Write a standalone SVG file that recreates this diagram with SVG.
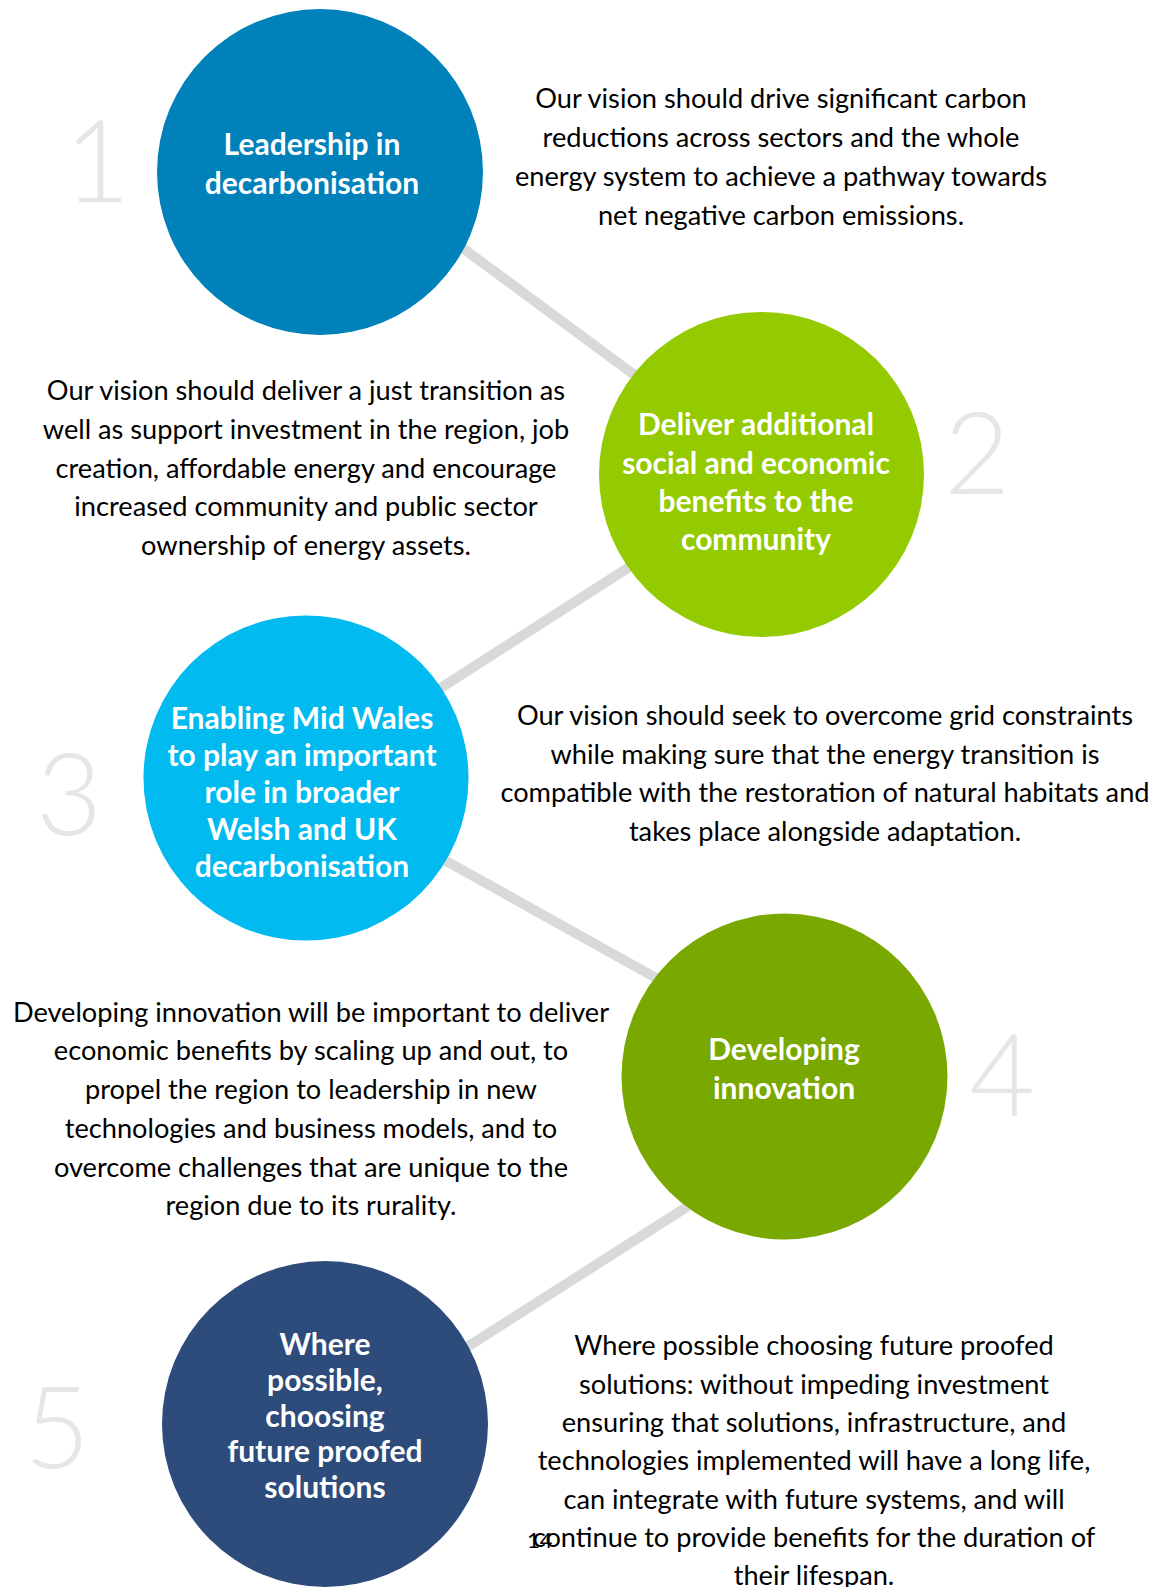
<svg xmlns="http://www.w3.org/2000/svg" width="1164" height="1587" viewBox="0 0 1164 1587">
<style>
.body{font-family:Lato,"Open Sans",sans-serif;font-size:27.2px;fill:#000;text-anchor:middle}
.title{font-family:Lato,"Open Sans",sans-serif;font-size:30px;font-weight:bold;fill:#fff;text-anchor:middle}
.num{font-family:Lato,"Open Sans",sans-serif;font-size:114px;font-weight:300;fill:#e6e6e6;text-anchor:middle}
.conn{stroke:#d9d9d9;stroke-width:10;fill:none}
.pg{font-family:Lato,"Open Sans",sans-serif;font-size:22px;fill:#000}
</style>
<rect width="1164" height="1587" fill="#fff"/>
<g id="connectors">
<line class="conn" x1="449" y1="238" x2="648" y2="385"/>
<line class="conn" x1="425" y1="698" x2="645" y2="557"/>
<line class="conn" x1="430" y1="852" x2="674" y2="988"/>
<line class="conn" x1="453" y1="1356" x2="704" y2="1196"/>
</g>
<g id="node1">
<text class="num" x="97" y="202">1</text>
<circle cx="320" cy="172" r="163" fill="#0081BA"/>
<text class="title"><tspan x="312" y="155">Leadership in</tspan><tspan x="312" y="194">decarbonisation</tspan></text>
</g>
<g id="text1">
<text class="body"><tspan x="781" y="108">Our vision should drive significant carbon</tspan><tspan x="781" y="147">reductions across sectors and the whole</tspan><tspan x="781" y="186">energy system to achieve a pathway towards</tspan><tspan x="781" y="225">net negative carbon emissions.</tspan></text>
</g>
<g id="node2">
<text class="num" x="977" y="494">2</text>
<circle cx="761.5" cy="474.5" r="162.5" fill="#93CA00"/>
<text class="title"><tspan x="756" y="435">Deliver additional</tspan><tspan x="756" y="474">social and economic</tspan><tspan x="756" y="512">benefits to the</tspan><tspan x="756" y="550">community</tspan></text>
</g>
<g id="text2">
<text class="body"><tspan x="306" y="400">Our vision should deliver a just transition as</tspan><tspan x="306" y="439">well as support investment in the region, job</tspan><tspan x="306" y="478">creation, affordable energy and encourage</tspan><tspan x="306" y="516">increased community and public sector</tspan><tspan x="306" y="555">ownership of energy assets.</tspan></text>
</g>
<g id="node3">
<text class="num" x="69" y="835">3</text>
<circle cx="306" cy="778" r="162.5" fill="#00BAF0"/>
<text class="title"><tspan x="302" y="729">Enabling Mid Wales</tspan><tspan x="302" y="766">to play an important</tspan><tspan x="302" y="803">role in broader</tspan><tspan x="302" y="840">Welsh and UK</tspan><tspan x="302" y="877">decarbonisation</tspan></text>
</g>
<g id="text3">
<text class="body"><tspan x="825" y="725">Our vision should seek to overcome grid constraints</tspan><tspan x="825" y="764">while making sure that the energy transition is</tspan><tspan x="825" y="802">compatible with the restoration of natural habitats and</tspan><tspan x="825" y="841">takes place alongside adaptation.</tspan></text>
</g>
<g id="node4">
<text class="num" x="1002" y="1116">4</text>
<circle cx="784.5" cy="1076.5" r="163" fill="#79A800"/>
<text class="title"><tspan x="784" y="1060">Developing</tspan><tspan x="784" y="1099">innovation</tspan></text>
</g>
<g id="text4">
<text class="body"><tspan x="311" y="1022">Developing innovation will be important to deliver</tspan><tspan x="311" y="1060">economic benefits by scaling up and out, to</tspan><tspan x="311" y="1099">propel the region to leadership in new</tspan><tspan x="311" y="1138">technologies and business models, and to</tspan><tspan x="311" y="1177">overcome challenges that are unique to the</tspan><tspan x="311" y="1215">region due to its rurality.</tspan></text>
</g>
<g id="node5">
<text class="num" x="57" y="1468">5</text>
<circle cx="325" cy="1424" r="163" fill="#2D4B7B"/>
<text class="title"><tspan x="325" y="1355">Where</tspan><tspan x="325" y="1391">possible,</tspan><tspan x="325" y="1427">choosing</tspan><tspan x="325" y="1462">future proofed</tspan><tspan x="325" y="1498">solutions</tspan></text>
</g>
<g id="text5">
<text class="body"><tspan x="814" y="1355">Where possible choosing future proofed</tspan><tspan x="814" y="1394">solutions: without impeding investment</tspan><tspan x="814" y="1432">ensuring that solutions, infrastructure, and</tspan><tspan x="814" y="1470">technologies implemented will have a long life,</tspan><tspan x="814" y="1509">can integrate with future systems, and will</tspan><tspan x="814" y="1547">continue to provide benefits for the duration of</tspan><tspan x="814" y="1585">their lifespan.</tspan></text>
</g>
<text class="pg" x="527" y="1548">14</text>
</svg>
